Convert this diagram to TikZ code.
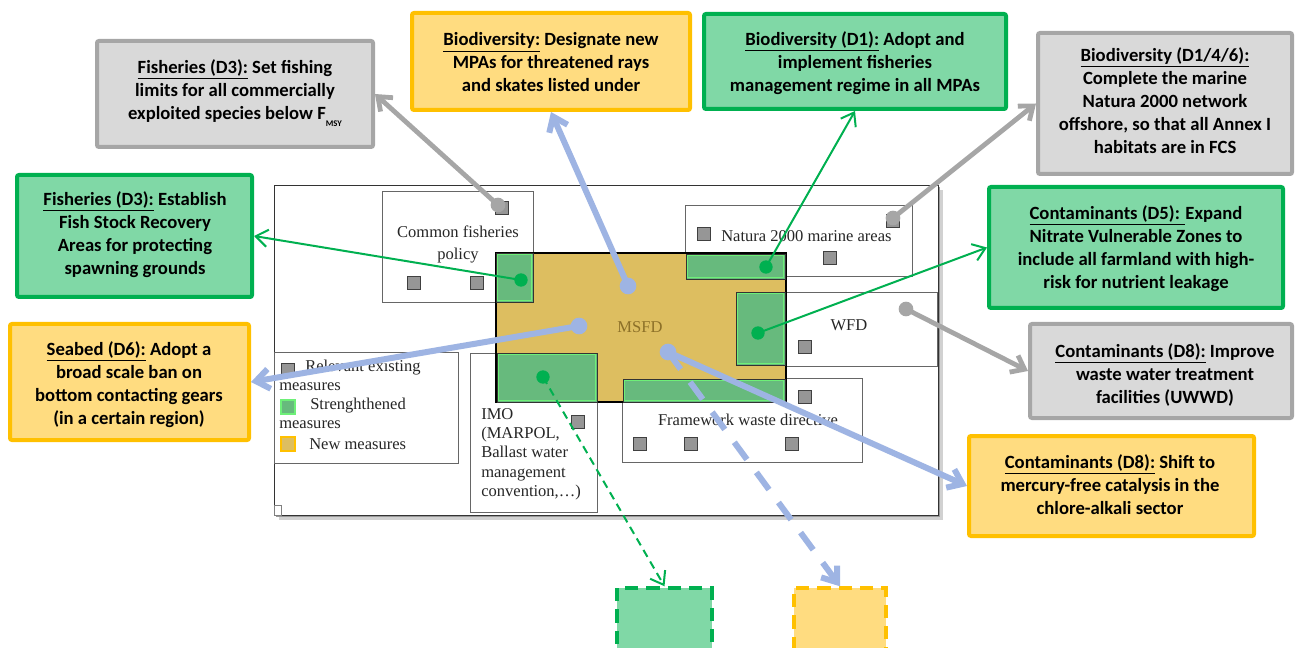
\documentclass[tikz,border=0pt]{standalone}
\usepackage{fontspec}
\setmainfont{Carlito}
\newfontfamily\plainserif{Liberation Serif}
\usetikzlibrary{arrows.meta,fit}

\definecolor{msfdgold}{RGB}{221,190,96}
\definecolor{msfdtext}{RGB}{140,112,40}
\definecolor{stronggreen}{RGB}{103,186,125}
\definecolor{lightrim}{RGB}{110,240,120}
\definecolor{calloutgreen}{RGB}{128,216,166}
\definecolor{rimgreen}{RGB}{0,176,80}
\definecolor{calloutyellow}{RGB}{255,220,128}
\definecolor{rimyellow}{RGB}{255,192,0}
\definecolor{calloutgrey}{RGB}{217,217,217}
\definecolor{rimgrey}{RGB}{166,166,166}
\definecolor{linkblue}{RGB}{158,180,227}
\definecolor{squaregrey}{RGB}{150,150,150}

\newcommand{\strongpatch}[4]{%
  \filldraw[fill=stronggreen, draw=black!80, line width=0.7pt] (#1,#2) rectangle (#3,#4);
  \draw[lightrim, line width=0.6pt] (#1+1.3,#2+1.3) rectangle (#3-1.3,#4-1.3);}

\tikzset{
  callout/.style={rectangle, rounded corners=1.5pt, line width=3pt, inner sep=0pt},
  callouttext/.style={align=center, inner sep=0pt, font=\fontsize{14}{17.25}\selectfont\bfseries},
  greycall/.style={callout, draw=rimgrey, fill=calloutgrey},
  greencall/.style={callout, draw=rimgreen, fill=calloutgreen},
  yellowcall/.style={callout, draw=rimyellow, fill=calloutyellow},
  newbox/.style={rectangle, inner sep=0pt, line width=2.6pt, dash pattern=on 10pt off 6pt},
  policybox/.style={draw=black!60, line width=0.6pt, fill=white},
  policytext/.style={inner sep=0pt, text=black!85, font=\plainserif\fontsize{12.4}{14.5}\selectfont},
  sq/.style={rectangle, draw=black!75, fill=squaregrey, minimum size=9.5pt, inner sep=0pt, line width=0.6pt},
  greendot/.style={circle, fill=rimgreen, minimum size=10pt, inner sep=0pt},
  bluedot/.style={circle, fill=linkblue, minimum size=12.5pt, inner sep=0pt},
  greydot/.style={circle, fill=rimgrey, minimum size=11pt, inner sep=0pt},
  greenlink/.style={-{Straight Barb[length=9pt,width=13pt]}, line width=1.5pt, rimgreen},
  greylink/.style={-{Straight Barb[length=9pt,width=14pt]}, line width=3.6pt, rimgrey},
  bluelink/.style={-{Straight Barb[length=10pt,width=15pt]}, line width=4.5pt, linkblue}
}

\begin{document}
\begin{tikzpicture}[x=0.75pt,y=-0.75pt]
  \useasboundingbox (0,0) rectangle (1295,648);

  % policy map
  \fill[black!18] (279,190) rectangle (943,520);
  \fill[black!40] (276,187) rectangle (940,517);
  \draw[black!80, line width=0.7pt, fill=white] (274,185) rectangle (938,515);
  \draw[black!50, line width=0.4pt] (274,505) rectangle (281,515);

  \draw[policybox] (382,191) rectangle (533,302);
  \draw[policybox] (685,205) rectangle (912,276);
  \draw[policybox] (786,292) rectangle (937,366);
  \draw[policybox] (622,378) rectangle (862,462);
  \draw[policybox] (470,353) rectangle (597,512);
  \draw[policybox] (274,352) rectangle (458,463);

  \filldraw[fill=msfdgold, draw=black, line width=0.8pt] (496,253) rectangle (786,402);
  \strongpatch{496}{253}{533}{302}
  \strongpatch{686}{254}{785}{279}
  \strongpatch{736}{292}{785}{365}
  \strongpatch{497}{353}{597}{402}
  \strongpatch{623}{379}{785}{402}

  \node[policytext, align=center, anchor=north, font=\plainserif\fontsize{12.4}{16.5}\selectfont]
    (cfptext) at (458,226) {Common fisheries\\policy};
  \node[policytext, anchor=base west] (nattext) at (721,242) {Natura 2000 marine areas};
  \node[policytext, anchor=base] (wfdtext) at (849,330) {WFD};
  \node[policytext, anchor=base] (fwdtext) at (748,425) {Framework waste directive};
  \node[policytext, anchor=base, text=msfdtext] (msfdtext) at (640,333) {MSFD};
  \node[policytext, align=left, anchor=north west] (imotext) at (481,408)
    {IMO\\(MARPOL,\\Ballast water\\management\\convention,\dots)};

  % legend
  \node[policytext, anchor=base west] (leg1) at (305,372) {Relevant existing};
  \node[policytext, anchor=base west] (leg1b) at (279,390) {measures};
  \node[policytext, anchor=base west] (leg2) at (310,409) {Strenghthened};
  \node[policytext, anchor=base west] (leg2b) at (279,428) {measures};
  \node[policytext, anchor=base west] (leg3) at (309,449) {New measures};
  \node[rectangle, fill=stronggreen, draw=lightrim, line width=1.2pt, minimum size=10.5pt, inner sep=0pt]
    (legsq2) at (288,407) {};
  \node[rectangle, fill=msfdgold, draw=rimyellow, line width=1.2pt, minimum size=10.5pt, inner sep=0pt]
    (legsq3) at (288,444) {};

  \foreach \sx/\sy [count=\k] in {414/283, 477/283, 502/208, 704/234, 830/258, 893/221,
      805/347, 805/397, 640/444, 691/444, 792/444, 578/422, 288/370}
    \node[sq] (sq\k) at (\sx,\sy) {};

  % measure points
  \node[greendot] (fishdot) at (521,280) {};
  \node[greendot] (natdot) at (766,267) {};
  \node[greendot] (wfddot) at (758,333) {};
  \node[greendot] (imodot) at (543,377) {};
  \node[bluedot] (msfdtop) at (628,286) {};
  \node[bluedot] (msfdleft) at (579,326) {};
  \node[bluedot] (msfdlow) at (668,352) {};
  \node[greydot] (cfpdot) at (498,205) {};
  \node[greydot] (natgrey) at (893,218) {};
  \node[greydot] (wfdgrey) at (906,309) {};

  % callouts
  \node[greycall, fit={(97,41) (373,147)}] (fishlim) {};
  \node[callouttext] (fishlimtext) at (235,93)
    {\underline{Fisheries (D3):} Set fishing\\limits for all commercially\\exploited species below
     F\raisebox{-5pt}{\fontsize{6.5}{7}\selectfont MSY}};
  \node[yellowcall, fit={(412,13) (690,110)}] (mpanew) {};
  \node[callouttext] (mpanewtext) at (551,62.5)
    {\underline{Biodiversity:} Designate new\\MPAs for threatened rays\\and skates listed under};
  \node[greencall, fit={(704,14) (1006,109)}] (mparegime) {};
  \node[callouttext] (mparegimetext) at (855,63)
    {\underline{Biodiversity (D1):} Adopt and\\implement fisheries\\management regime in all MPAs};
  \node[greycall, fit={(1038,33) (1292,174)}] (natcomplete) {};
  \node[callouttext] (natcompletetext) at (1165,101)
    {\underline{Biodiversity (D1/4/6):}\\Complete the marine\\Natura 2000 network\\offshore, so that all Annex I\\habitats are in FCS};
  \node[greencall, fit={(17,175) (252,297)}] (fishrecov) {};
  \node[callouttext] (fishrecovtext) at (135,234.5)
    {\underline{Fisheries (D3):} Establish\\Fish Stock Recovery\\Areas for protecting\\spawning grounds};
  \node[yellowcall, fit={(10,324) (249,440)}] (seaban) {};
  \node[callouttext] (seabantext) at (129,385)
    {\underline{Seabed (D6):} Adopt a\\broad scale ban on\\bottom contacting gears\\(in a certain region)};
  \node[greencall, fit={(989,187) (1283,308)}] (nitrate) {};
  \node[callouttext] (nitratetext) at (1136,248.5)
    {\underline{Contaminants (D5): }Expand\\Nitrate Vulnerable Zones to\\include all farmland with high-\\risk for nutrient leakage};
  \node[greycall, fit={(1030,324) (1292,418)}] (uwwd) {};
  \node[callouttext] (uwwdtext) at (1165,375)
    {\underline{Contaminants (D8):} Improve\\waste water treatment\\facilities (UWWD)};
  \node[yellowcall, fit={(969,436) (1254,536)}] (mercury) {};
  \node[callouttext] (mercurytext) at (1110,484.5)
    {\underline{Contaminants (D8):} Shift to\\mercury-free catalysis in the\\chlore-alkali sector};
  \node[newbox, draw=rimgreen, fill=calloutgreen, fit={(617,588) (712,654)}] (newgreen) {};
  \node[newbox, draw=rimyellow, fill=calloutyellow, fit={(794,588) (886,654)}] (newyellow) {};

  % links
  \draw[greylink] (cfpdot.center) -- (fishlim.east);
  \draw[greylink] (natgrey.center) -- (natcomplete.west);
  \draw[greylink] (wfdgrey.center) -- (uwwd.west);
  \draw[greenlink] (fishdot.center) -- (fishrecov.east);
  \draw[greenlink] (natdot.center) -- (mparegime.south);
  \draw[greenlink] (wfddot.center) -- (nitrate.west);
  \draw[greenlink, dash pattern=on 6pt off 4pt] (imodot.center) -- (newgreen.north);
  \draw[bluelink] (msfdtop.center) -- (mpanew.south);
  \draw[bluelink] (msfdleft.center) -- (seaban.east);
  \draw[bluelink] (msfdlow.center) -- (mercury.west);
  \draw[bluelink, dash pattern=on 16pt off 12pt] (msfdlow.center) -- (newyellow.north);
\end{tikzpicture}
\end{document}
